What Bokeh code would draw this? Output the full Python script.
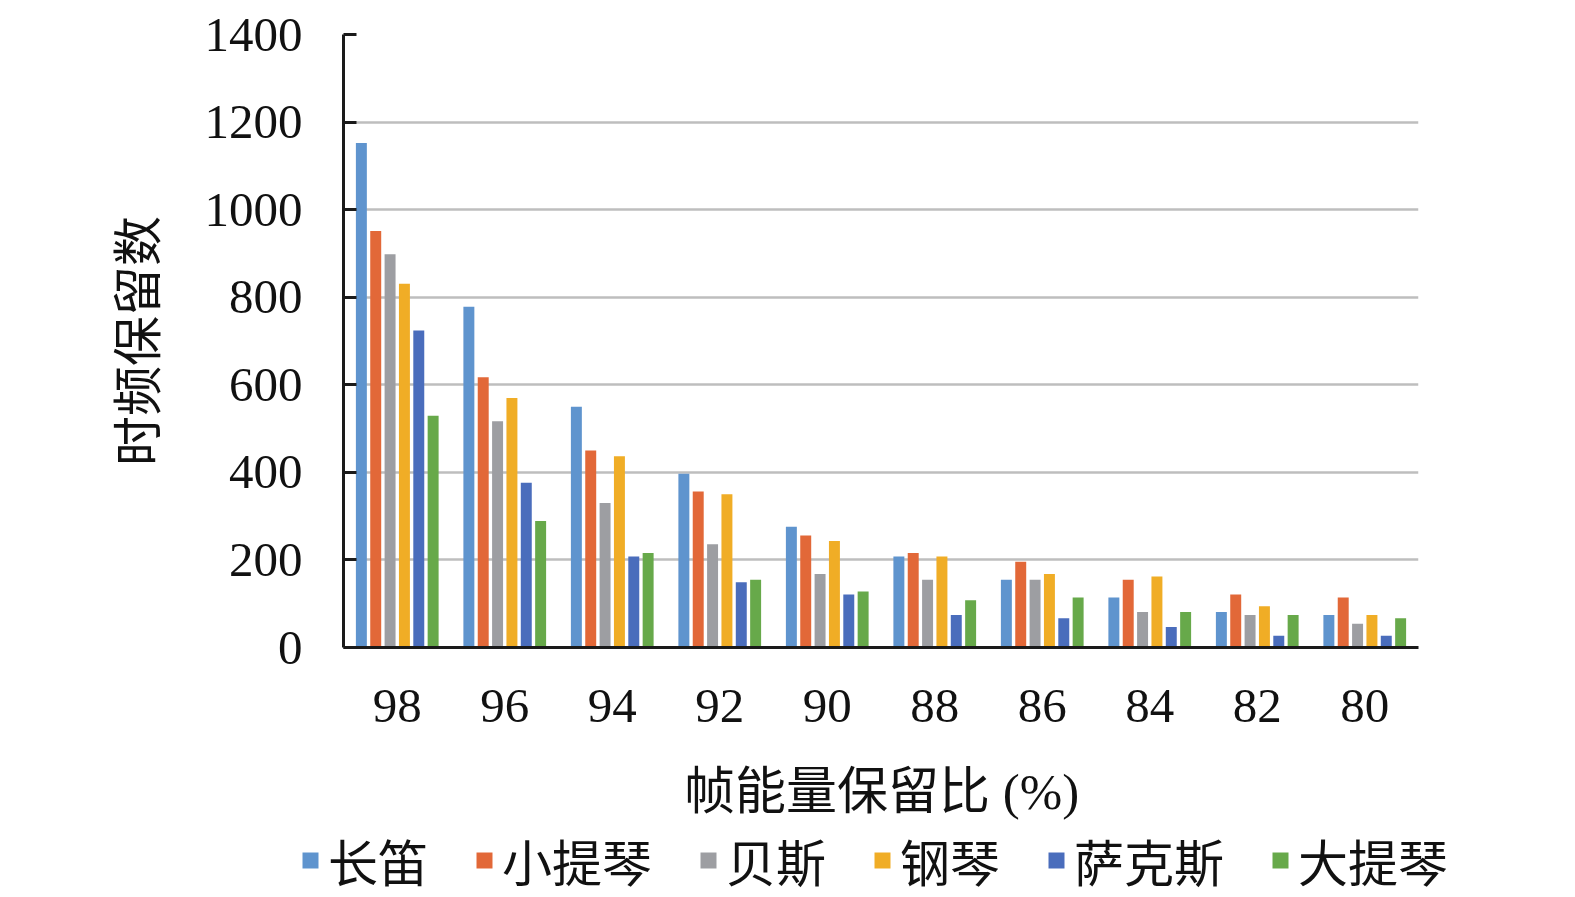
from bokeh.plotting import figure
from bokeh.models import (ColumnDataSource, FactorRange, Legend, LegendItem,
                          SingleIntervalTicker, Range1d)
from bokeh.layouts import column
from bokeh.transform import dodge
from bokeh.embed import file_html
from bokeh.resources import INLINE

categories = ["98", "96", "94", "92", "90", "88", "86", "84", "82", "80"]
series_names = ["长笛", "小提琴", "贝斯", "钢琴", "萨克斯", "大提琴"]
flute = [1152, 778, 550, 397, 276, 208, 155, 114, 81, 74]
violin = [951, 617, 450, 356, 256, 216, 196, 155, 121, 114]
bass = [898, 517, 330, 236, 168, 155, 155, 81, 74, 54]
piano = [831, 570, 437, 350, 243, 208, 168, 162, 94, 74]
sax = [724, 376, 208, 149, 121, 74, 67, 47, 27, 27]
cello = [529, 289, 216, 155, 128, 108, 114, 81, 74, 67]
colors = ["#5F94CE", "#E26838", "#9D9EA2", "#F0AD26", "#4A6DBC", "#67A94A"]
x_title = "帧能量保留比 (%)"
y_title = "时频保留数"

series = [flute, violin, bass, piano, sax, cello]
data = {"cat": categories}
keys = ["s0", "s1", "s2", "s3", "s4", "s5"]
for k, s in zip(keys, series):
    data[k] = s
source = ColumnDataSource(data)

SERIF = "'Liberation Serif', 'Noto Sans CJK SC'"

# ---------------- main chart ----------------
p = figure(x_range=FactorRange(*categories), y_range=Range1d(0, 1400),
           frame_width=1075, frame_height=613, output_backend="svg", toolbar_location=None,
           min_border_left=343, min_border_right=130, min_border_top=34, min_border_bottom=100)
p.outline_line_color = None
p.background_fill_color = "white"

step = 0.1335
bw = 0.102
for i, (k, c) in enumerate(zip(keys, colors)):
    off = (i - 2.5) * step
    p.vbar(x=dodge("cat", off, range=p.x_range), top=k, width=bw, source=source,
           fill_color=c, line_color=None)

p.yaxis.ticker = SingleIntervalTicker(interval=200)
p.yaxis.major_tick_in = 13
p.yaxis.major_tick_out = 0
p.yaxis.minor_tick_line_color = None
p.yaxis.axis_line_color = "#1a1a1a"
p.yaxis.axis_line_width = 3
p.yaxis.major_tick_line_color = "#1a1a1a"
p.yaxis.major_tick_line_width = 3
p.yaxis.major_label_text_font = "Liberation Serif"
p.yaxis.major_label_text_font_size = "49px"
p.yaxis.major_label_text_color = "#111111"
p.yaxis.major_label_standoff = 37
p.yaxis.axis_label = y_title
p.yaxis.axis_label_text_font = SERIF
p.yaxis.axis_label_text_font_size = "50px"
p.yaxis.axis_label_text_font_style = "normal"
p.yaxis.axis_label_text_color = "#111111"
p.yaxis.axis_label_standoff = 35

p.xaxis.major_tick_line_color = None
p.xaxis.minor_tick_line_color = None
p.xaxis.axis_line_color = "#1a1a1a"
p.xaxis.axis_line_width = 3
p.xaxis.major_label_text_font = "Liberation Serif"
p.xaxis.major_label_text_font_size = "49px"
p.xaxis.major_label_text_color = "#111111"
p.xaxis.major_label_standoff = 36

p.xgrid.grid_line_color = None
p.ygrid.grid_line_color = "#BEBEBE"
p.ygrid.grid_line_width = 2.5

# ---------------- bottom strip: x title + legend ----------------
W2, H2 = 1548, 150
p2 = figure(x_range=Range1d(0, W2), y_range=Range1d(0, H2),
            frame_width=W2, frame_height=H2, output_backend="svg", toolbar_location=None,
            x_axis_type=None, y_axis_type=None,
            min_border_left=0, min_border_right=0, min_border_top=0, min_border_bottom=0)
p2.outline_line_color = None
p2.xgrid.grid_line_color = None
p2.ygrid.grid_line_color = None

# x-axis title (placed in screen pixels, centred under the chart frame)
title_proxy = p2.vbar(x="s0", top="s0", width=1, source=source, fill_alpha=0,
                      line_alpha=0, visible=False)
title_box = Legend(items=[LegendItem(label=x_title, renderers=[title_proxy])],
                   location=(683, 73), glyph_width=1, glyph_height=1, label_standoff=0,
                   label_text_font=SERIF, label_text_font_size="51px",
                   label_text_color="#111111", border_line_color=None,
                   background_fill_alpha=0, margin=0, padding=0, inactive_fill_alpha=0)
p2.add_layout(title_box, "center")

items = []
for k, name, c in zip(keys, series_names, colors):
    # proxies for the legend swatches (not drawn in this strip)
    r = p2.vbar(x=k, top=k, width=1, source=source, fill_color=c, line_color=None,
                visible=False)
    items.append(LegendItem(label=name, renderers=[r]))

legend = Legend(items=items, orientation="horizontal", location=(300, 1),
                glyph_width=20, glyph_height=20, label_standoff=8, spacing=46,
                label_text_font=SERIF, label_text_font_size="50px", label_text_color="#111111",
                border_line_color=None, background_fill_alpha=0, margin=0, padding=0,
                inactive_fill_alpha=0)
p2.add_layout(legend, "center")

layout = column(p, p2, spacing=0)
open("out.html", "w").write(file_html(layout, INLINE))
